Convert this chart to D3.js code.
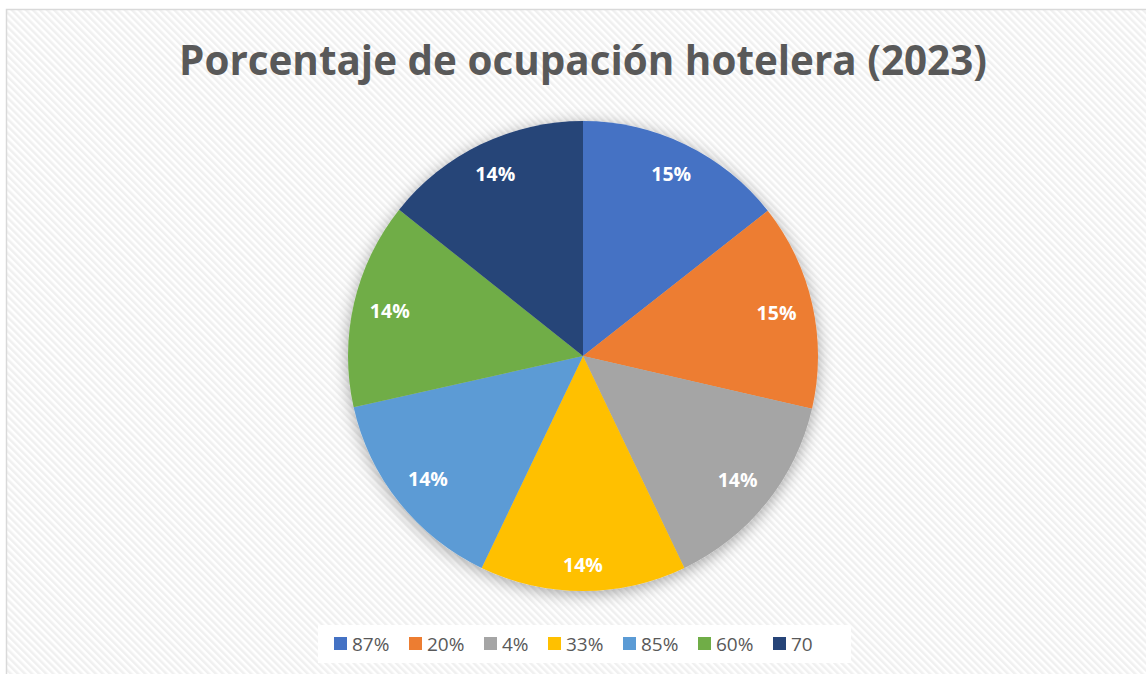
<!DOCTYPE html>
<html>
<head>
<meta charset="utf-8">
<script src="https://cdn.jsdelivr.net/npm/d3@7"></script>
<style>
  body { margin: 0; background: #fff; }
  svg { display: block; }
</style>
</head>
<body>
<div id="chart"></div>
<script>
const W = 1146, H = 674;

const categories = ["87%", "20%", "4%", "33%", "85%", "60%", "70"];
const values = [14.4, 14.2, 14.3, 14.2, 14.4, 14.2, 14.3];
const sliceLabels = ["15%", "15%", "14%", "14%", "14%", "14%", "14%"];
const colors = ["#4472c4", "#ed7d31", "#a5a5a5", "#ffc000", "#5b9bd5", "#70ad47", "#264478"];
const title = "Porcentaje de ocupación hotelera (2023)";

const cx = 583, cy = 356, radius = 235;

const svg = d3.select("#chart")
  .append("svg")
  .attr("width", W)
  .attr("height", H);

const defs = svg.append("defs");

// diagonal stripe background
const pat = defs.append("pattern")
  .attr("id", "stripes")
  .attr("patternUnits", "userSpaceOnUse")
  .attr("width", 5)
  .attr("height", 5)
  .attr("patternTransform", "rotate(-45)");
pat.append("rect").attr("width", 5).attr("height", 5).attr("fill", "#ffffff");
pat.append("rect").attr("width", 2.5).attr("height", 5).attr("fill", "#f0f0f0");

const shadow = defs.append("filter")
  .attr("id", "shadow")
  .attr("x", "-20%").attr("y", "-20%")
  .attr("width", "140%").attr("height", "140%");
shadow.append("feDropShadow")
  .attr("dx", 0)
  .attr("dy", 3)
  .attr("stdDeviation", 8)
  .attr("flood-color", "#000")
  .attr("flood-opacity", 0.35);

svg.append("rect")
  .attr("x", 6.5)
  .attr("y", 9.5)
  .attr("width", W)
  .attr("height", H)
  .attr("fill", "url(#stripes)")
  .attr("stroke", "#d9d9d9")
  .attr("stroke-width", 1.5);

svg.append("text")
  .attr("x", cx)
  .attr("y", 75)
  .attr("text-anchor", "middle")
  .style("font-family", "'Open Sans', sans-serif")
  .style("font-weight", "bold")
  .style("font-size", "40.4px")
  .attr("fill", "#595959")
  .text(title);

const pie = d3.pie().sort(null).value(d => d)(values);
const arc = d3.arc().innerRadius(0).outerRadius(radius);

const g = svg.append("g")
  .attr("transform", `translate(${cx},${cy})`);

g.append("g")
  .attr("filter", "url(#shadow)")
  .selectAll("path")
  .data(pie)
  .join("path")
  .attr("d", arc)
  .attr("fill", (d, i) => colors[i]);

// labels placed inside, outer corner of the label box at a fixed distance
const labelReach = 220;
const labels = g.selectAll(".lbl")
  .data(pie)
  .join("text")
  .attr("class", "lbl")
  .attr("text-anchor", "middle")
  .attr("dy", "0.35em")
  .style("font-family", "'Open Sans', sans-serif")
  .style("font-weight", "bold")
  .style("font-size", "19.5px")
  .attr("fill", "#ffffff")
  .text((d, i) => sliceLabels[i]);

labels.each(function(d) {
  const box = this.getBBox();
  const hw = box.width / 2, hh = 10;
  const a = (d.startAngle + d.endAngle) / 2;
  const u = Math.abs(Math.sin(a)), v = Math.abs(Math.cos(a));
  const b = u * hw + v * hh;
  const c = hw * hw + hh * hh - labelReach * labelReach;
  const t = -b + Math.sqrt(b * b - c);
  d3.select(this).attr("transform", `translate(${t * Math.sin(a)},${-t * Math.cos(a)})`);
});

// legend
const legend = svg.append("g");
legend.append("rect")
  .attr("x", 318)
  .attr("y", 625)
  .attr("width", 533)
  .attr("height", 38)
  .attr("fill", "#ffffff");

const legendX = [334, 409, 484, 548, 623, 698, 773];
const items = legend.selectAll(".item")
  .data(categories)
  .join("g")
  .attr("class", "item")
  .attr("transform", (d, i) => `translate(${legendX[i]},637)`);

items.append("rect")
  .attr("width", 13)
  .attr("height", 13)
  .attr("fill", (d, i) => colors[i]);

items.append("text")
  .attr("x", 18)
  .attr("y", 13.5)
  .style("font-family", "'Open Sans', sans-serif")
  .style("font-size", "19px")
  .attr("fill", "#595959")
  .text(d => d);
</script>
</body>
</html>
